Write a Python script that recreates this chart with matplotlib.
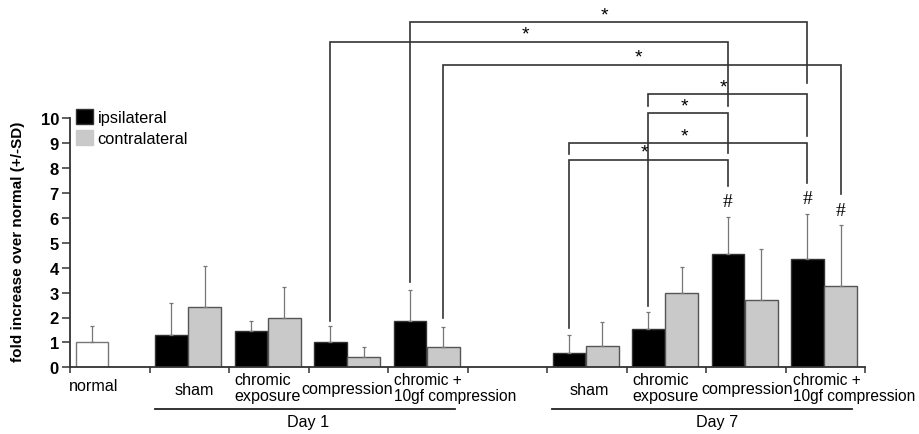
import matplotlib
matplotlib.use('Agg')
import matplotlib.pyplot as plt
from matplotlib.patches import Patch

plt.rcParams['font.family'] = ['Liberation Sans', 'DejaVu Sans']

# Fold increase values (mean, upper SD)
normal_mean = 1.00
normal_sd = 0.65

d1_ipsi = [1.31, 1.45, 1.03, 1.87]
d1_ipsi_sd = [1.27, 0.42, 0.62, 1.23]
d1_contra = [2.43, 1.99, 0.40, 0.80]
d1_contra_sd = [1.63, 1.25, 0.40, 0.81]

d7_ipsi = [0.56, 1.54, 4.54, 4.36]
d7_ipsi_sd = [0.74, 0.67, 1.50, 1.81]
d7_contra = [0.87, 2.98, 2.70, 3.27]
d7_contra_sd = [0.96, 1.04, 2.04, 2.44]

groups = ['sham', 'chromic\nexposure', 'compression', 'chromic +\n10gf compression']

# slot of each group on the x axis (slot 5 stays empty)
d1_slots = [1, 2, 3, 4]
d7_slots = [6, 7, 8, 9]

ipsi_off = 0.275
contra_off = 0.695
width = 0.41

# significance brackets: (left slot, left side, right slot, right side, level, left end, right end)
brackets = [
    (4, 'i', 9, 'i', 13.86, 3.44, 11.42),
    (3, 'i', 8, 'i', 13.08, 1.87, 10.48),
    (4, 'c', 9, 'c', 12.15, 1.97, 6.96),
    (7, 'i', 9, 'i', 10.96, 10.48, 9.28),
    (7, 'i', 8, 'i', 10.21, 2.45, 8.61),
    (6, 'i', 9, 'i', 9.00, 8.57, 7.39),
    (6, 'i', 8, 'i', 8.34, 1.57, 7.27),
]
# bars marked with '#'
hash_marks = [(8, 'i'), (9, 'i'), (9, 'c')]

fig = plt.figure(figsize=(9.2, 4.35), dpi=100)
ax = fig.add_axes([70 / 920, 66.7 / 435, 795 / 920, 368.3 / 435])

err_kw = dict(ecolor='#777777', elinewidth=0.9, capsize=1.2, capthick=0.9)

ax.bar(ipsi_off, normal_mean, width, color='white', edgecolor='#777777', linewidth=1.0,
       yerr=[[0], [normal_sd]], error_kw=err_kw)

for slots, ipsi, ipsi_sd, contra, contra_sd in [(d1_slots, d1_ipsi, d1_ipsi_sd, d1_contra, d1_contra_sd),
                                                 (d7_slots, d7_ipsi, d7_ipsi_sd, d7_contra, d7_contra_sd)]:
    xi = [s + ipsi_off for s in slots]
    xc = [s + contra_off for s in slots]
    ax.bar(xi, ipsi, width, color='black', edgecolor='#333333', linewidth=1.0,
           yerr=[[0] * 4, ipsi_sd], error_kw=err_kw)
    ax.bar(xc, contra, width, color='#c9c9c9', edgecolor='#555555', linewidth=1.0,
           yerr=[[0] * 4, contra_sd], error_kw=err_kw)

def bar_x(slot, side):
    return slot + (ipsi_off if side == 'i' else contra_off)

for ls, lside, rs, rside, level, lend, rend in brackets:
    x1 = bar_x(ls, lside)
    x2 = bar_x(rs, rside)
    ax.plot([x1, x1, x2, x2], [lend, level, level, rend], color='#333333', lw=1.2,
            solid_joinstyle='miter', clip_on=False)
    ax.text((x1 + x2) / 2 - 0.05, level + 0.30, '*', ha='center', va='center', fontsize=14)

# top of each bar + sd, for the '#' marks
top = {}
for s, m, sd in zip(d7_slots, d7_ipsi, d7_ipsi_sd):
    top[(s, 'i')] = m + sd
for s, m, sd in zip(d7_slots, d7_contra, d7_contra_sd):
    top[(s, 'c')] = m + sd
for key in hash_marks:
    ax.text(bar_x(*key), top[key] + 0.6, '#', ha='center', va='center', fontsize=14,
            family=['Liberation Serif', 'DejaVu Serif'])

ax.set_xlim(0, 10)
ax.set_ylim(0, 368.3 / 24.9)
ax.set_xticks(range(11))
ax.set_xticklabels([])
ax.set_yticks(range(11))
ax.set_yticklabels([str(v) for v in range(11)], fontweight='bold', fontsize=12)
ax.tick_params(axis='x', direction='out', length=4, width=1.1, color='#333333')
ax.tick_params(axis='y', direction='out', length=6, width=1.1, color='#333333', pad=2)
ax.spines['top'].set_visible(False)
ax.spines['right'].set_visible(False)
ax.spines['left'].set_bounds(0, 10)
for sp in ['left', 'bottom']:
    ax.spines[sp].set_linewidth(1.3)
    ax.spines[sp].set_color('#333333')
ax.set_ylabel('fold increase over normal (+/-SD)', fontweight='bold', fontsize=11)
ax.yaxis.set_label_coords(-0.057, 10.0 / 14.79 * 0.5 + 0.005)

# category labels under the axis
fs = 11.6
ax.text(0.30, -0.75, 'normal', ha='center', va='center', fontsize=fs, clip_on=False)
for slots, sham_x, comp_x, chrom_x, combo_x in [(d1_slots, 1.56, 3.49, 2.07, 4.08),
                                               (d7_slots, 6.53, 8.52, 7.08, 9.10)]:
    ax.text(sham_x, -0.90, groups[0], ha='center', va='center', fontsize=fs)
    ax.text(chrom_x, -0.81, groups[1], ha='left', va='center', fontsize=fs, linespacing=1.1)
    ax.text(comp_x, -0.87, groups[2], ha='center', va='center', fontsize=fs)
    ax.text(combo_x, -0.81, groups[3], ha='left', va='center', fontsize=11.2, linespacing=1.13)

for x1, x2, xt, name in [(1.07, 4.84, 2.99, 'Day 1'), (6.06, 9.84, 8.14, 'Day 7')]:
    ax.plot([x1, x2], [-1.67, -1.67], color='#222222', lw=1.3, clip_on=False)
    ax.text(xt, -2.18, name, ha='center', va='center', fontsize=fs)

handles = [Patch(facecolor='black', edgecolor='#333333', label='ipsilateral'),
           Patch(facecolor='#c9c9c9', edgecolor='#c9c9c9', label='contralateral')]
ax.legend(handles=handles, loc='upper left', bbox_to_anchor=(0.008, 0.70), frameon=False,
          borderaxespad=0, borderpad=0, handlelength=1.0, handleheight=1.0,
          handletextpad=0.3, labelspacing=0.3, fontsize=11.8)

fig.savefig('out.png', dpi=100)
